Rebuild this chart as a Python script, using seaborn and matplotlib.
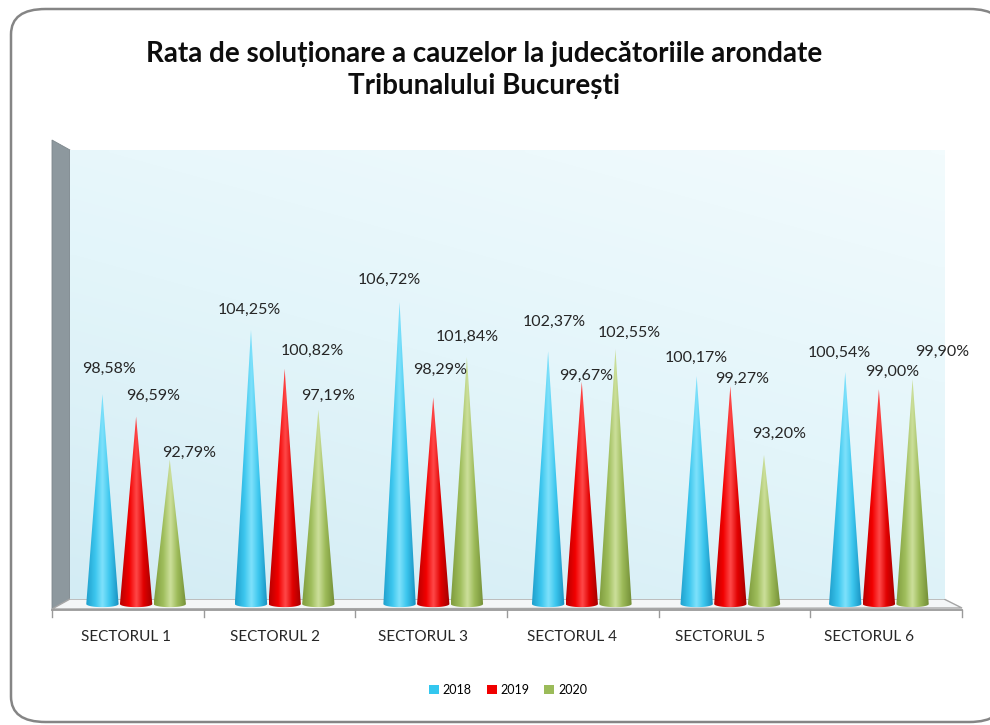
import numpy as np
import pandas as pd
import seaborn as sns
import matplotlib.pyplot as plt
from matplotlib.patches import Polygon, FancyBboxPatch, Patch
from matplotlib.lines import Line2D
from matplotlib.colors import LinearSegmentedColormap
from matplotlib.transforms import ScaledTranslation

sectors = ["SECTORUL 1", "SECTORUL 2", "SECTORUL 3", "SECTORUL 4", "SECTORUL 5", "SECTORUL 6"]
years = ["2018", "2019", "2020"]
rate_2018 = [98.58, 104.25, 106.72, 102.37, 100.17, 100.54]
rate_2019 = [96.59, 100.82, 98.29, 99.67, 99.27, 99.00]
rate_2020 = [92.79, 97.19, 101.84, 102.55, 93.20, 99.90]
title = "Rata de soluționare a cauzelor la judecătoriile arondate\nTribunalului București"

df = pd.DataFrame({
    "sector": sectors * 3,
    "year": [y for y in years for _ in sectors],
    "rate": rate_2018 + rate_2019 + rate_2020,
})

base_colors = {"2018": "#33c7ef", "2019": "#f00000", "2020": "#9bbb59"}
cone_cmaps = {
    "2018": ["#1f9fcc", "#3cc6ee", "#7fe2fb", "#3cc6ee", "#1790c0"],
    "2019": ["#b80000", "#f20000", "#ff4a4a", "#e00000", "#a00000"],
    "2020": ["#7f9c3e", "#9fbe5c", "#cde09c", "#9cba58", "#728d36"],
}
# data label placement relative to the cone tip, in px (right, up)
label_offsets = {
    "2018": [(7, 25), (-2, 20), (-10, 22), (6, 29), (0, 18), (-6, 19)],
    "2019": [(17, 21), (28, 18), (7, 27), (4, 6), (12, 7), (13, 17)],
    "2020": [(19, 7), (10, 14), (0, 20), (14, 16), (15, 21), (30, 27)],
}

W, H = 990, 725
fig = plt.figure(figsize=(W / 100, H / 100), dpi=100)
fig.patch.set_facecolor("white")
font = ["Lato", "DejaVu Sans"]


def px(x, y):
    return (x / W, 1 - y / H)


# card with rounded border (runs off the right edge like the original)
card = FancyBboxPatch(px(11, 722), (1004 - 11) / W, (722 - 9) / H,
                      boxstyle="round,pad=0,rounding_size=0.035",
                      transform=fig.transFigure, facecolor="white",
                      edgecolor="#858585", linewidth=1.8, zorder=-5)
fig.add_artist(card)

# left side wall and floor of the 3D box
side = Polygon([px(52, 140), px(70, 150), px(70, 600), px(52, 609)], closed=True,
               transform=fig.transFigure, facecolor="#8d989e", edgecolor="#7d878c",
               linewidth=0.6, zorder=-4)
fig.add_artist(side)
floor = Polygon([px(70, 599), px(944, 599), px(962, 608), px(52, 609)], closed=True,
                transform=fig.transFigure, facecolor="#f4f6f7", edgecolor="#a6a6a6",
                linewidth=1.0, zorder=-4)
fig.add_artist(floor)
fig.add_artist(Line2D([52 / W, 962 / W], [1 - 609.5 / H] * 2, transform=fig.transFigure,
                      color="#9a9a9a", linewidth=1.3, zorder=-3))
for tx in np.linspace(52, 962, 7):
    fig.add_artist(Line2D([tx / W] * 2, [1 - 609.5 / H, 1 - 617 / H],
                          transform=fig.transFigure, color="#9a9a9a", linewidth=1.0, zorder=-3))

ax = fig.add_axes([70 / W, 110 / H, 875 / W, 465 / H])
ax.set_facecolor("none")

sns.barplot(data=df, x="sector", y="rate", hue="year", palette=base_colors,
            width=0.68, dodge=True, legend=False, ax=ax)

ylo, yhi = 80 - 11 / 11.3, 80 + 454 / 11.3

# back wall gradient
gy, gx = np.mgrid[0:1:100j, 0:1:100j]
wall = 0.65 * gy + 0.35 * gx
wall_cmap = LinearSegmentedColormap.from_list("wall", ["#d3ecf4", "#e3f5fa", "#f2fbfd"])
ax.imshow(wall, cmap=wall_cmap, extent=[0, 1, (615 - 599) / 465, 1], origin="lower",
          transform=ax.transAxes, aspect="auto", zorder=0, interpolation="bilinear")

grad = np.linspace(0, 1, 128).reshape(1, -1)
for container, year in zip(ax.containers, years):
    cmap = LinearSegmentedColormap.from_list(
        year, list(zip([0, 0.28, 0.5, 0.72, 1], cone_cmaps[year])))
    for i, bar in enumerate(container.patches):
        bar.set_visible(False)
        x0, w, h = bar.get_x(), bar.get_width(), bar.get_height()
        xc = x0 + w / 2
        half = w * 0.48
        t = np.linspace(np.pi, 2 * np.pi, 40)
        arc = np.column_stack([xc + half * np.cos(t), 80 + 0.28 * np.sin(t)])
        pts = np.vstack([[xc, h], arc])
        cone = Polygon(pts, closed=True, facecolor="none", edgecolor="none",
                       transform=ax.transData)
        ax.add_patch(cone)
        img = ax.imshow(grad, cmap=cmap, extent=[xc - half, xc + half, 79.5, h],
                        aspect="auto", zorder=3, interpolation="bicubic")
        img.set_clip_path(cone)

        dx, dy = label_offsets[year][i]
        ax.annotate(f"{h:.2f}%".replace(".", ","), (xc, h),
                    xytext=(dx * 0.72, dy * 0.72), textcoords="offset points",
                    ha="center", va="center", fontsize=11.5, color="#262626",
                    family=font, zorder=5, annotation_clip=False)

ax.set_xlim(-0.445, 5.445)
ax.set_ylim(ylo, yhi)
ax.set_yticks([])
ax.set_xlabel("")
ax.set_ylabel("")
for s in ax.spines.values():
    s.set_visible(False)
ax.tick_params(axis="x", length=0, pad=11, labelsize=11, labelcolor="#262626")
for lab in ax.get_xticklabels():
    lab.set_family(font)
    lab.set_transform(lab.get_transform() + ScaledTranslation(-10 / 100, 0, fig.dpi_scale_trans))

fig.text(484 / W, 1 - 70 / H, title, ha="center", va="center", fontsize=20,
         fontweight="bold", family=font, color="#0d0d0d", linespacing=1.3)

handles = [Patch(facecolor=base_colors[y], label=y) for y in years]
fig.legend(handles=handles, loc="center", bbox_to_anchor=px(508, 690), ncol=3,
           frameon=False, handlelength=0.8, handleheight=0.8,
           handletextpad=0.3, columnspacing=1.2, prop={"family": font, "size": 9})

fig.savefig("out.png", dpi=100)
